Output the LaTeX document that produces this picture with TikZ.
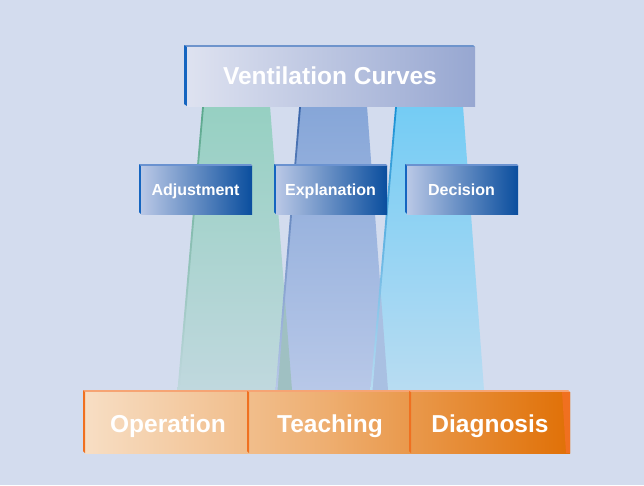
\documentclass[tikz,border=0pt]{standalone}
\usepackage{fontspec}
\setmainfont{Liberation Sans}
\usetikzlibrary{calc}
\definecolor{bg}{HTML}{D3DCEE}
\definecolor{topL}{HTML}{DEE2F0}
\definecolor{topR}{HTML}{97A7D1}
\definecolor{topEdge}{HTML}{6E94CC}
\definecolor{sideBlue}{HTML}{1565C0}
\definecolor{midL}{HTML}{BAC8E6}
\definecolor{midR}{HTML}{0A4E9E}
\definecolor{midTop}{HTML}{6A92D0}
\definecolor{barL}{HTML}{F7DEC4}
\definecolor{barM}{HTML}{EEAE70}
\definecolor{barR}{HTML}{E07006}
\definecolor{barTop}{HTML}{F6A474}
\definecolor{barSide}{HTML}{F07020}
\definecolor{grT}{HTML}{96D0C2}
\definecolor{grB}{HTML}{C0D8DE}
\definecolor{grE}{HTML}{5AA88C}
\definecolor{blT}{HTML}{86A6D8}
\definecolor{blB}{HTML}{B8C8E8}
\definecolor{blE}{HTML}{3A66AA}
\definecolor{cyT}{HTML}{74CCF4}
\definecolor{cyB}{HTML}{B8DCF2}
\definecolor{cyE}{HTML}{1890D4}
\definecolor{ovGB}{HTML}{9FC0C2}
\definecolor{ovBC}{HTML}{A9C0E2}
\tikzset{
  lbl/.style={text=white, font=\bfseries\fontsize{16}{19}\selectfont, inner sep=0pt, anchor=base},
  biglbl/.style={text=white, font=\bfseries\fontsize{24.5}{29}\selectfont, inner sep=0pt, anchor=base},
  midbox/.style={minimum width=111pt, minimum height=48pt, inner sep=0pt, left color=midL, right color=midR},
  slot/.style={inner sep=0pt, minimum height=61pt},
}
\begin{document}
\begin{tikzpicture}[x=1pt,y=-1pt]
\useasboundingbox (0,0) rectangle (644,485);
\fill[bg] (0,0) rectangle (644,485);
% beams
\shade[top color=grT, bottom color=grB] (203,106) -- (270,106) -- (292,390) -- (178,390) -- cycle;
\shade[top color=blT, bottom color=blB] (300,106) -- (367,106) -- (388,390) -- (276,390) -- cycle;
\shade[top color=cyT, bottom color=cyB] (396,106) -- (463,106) -- (484,390) -- (371,390) -- cycle;
% overlaps
\fill[ovGB] (284.3,291) -- (292,390) -- (276,390) -- cycle;
\fill[ovBC] (380.2,285) -- (388,390) -- (371,390) -- cycle;
% beam edges
\shade[top color=grE, bottom color=grB] (202.2,106) -- (204,106) -- (179.5,390) -- (177.5,390) -- cycle;
\shade[top color=blE, bottom color=blB] (299.2,106) -- (301,106) -- (277.5,390) -- (275.5,390) -- cycle;
\shade[top color=cyE, bottom color=cyB] (395.2,106) -- (397,106) -- (372.5,390) -- (370.5,390) -- cycle;
% top box
\fill[topEdge] (184,45) -- (473,45) -- (475,47) -- (187,47) -- cycle;
\fill[sideBlue] (184,45) -- (187,47) -- (187,106) -- (184,104) -- cycle;
\node[minimum width=288pt, minimum height=59pt, inner sep=0pt, left color=topL, right color=topR] (top) at (331,76.5) {};
\node[biglbl] (toplbl) at (330,84) {Ventilation Curves};
% middle boxes
\foreach \nm/\cx/\txt in {adj/196.5/Adjustment, exp/331.5/Explanation, dec/462.5/Decision}{
  \fill[midTop] (\cx-57.5,164) -- (\cx+54.5,164) -- (\cx+56,166) -- (\cx-55.5,166) -- cycle;
  \fill[sideBlue] (\cx-57.5,164) -- (\cx-55.5,166) -- (\cx-55.5,214) -- (\cx-57.5,212) -- cycle;
  \node[midbox] (\nm) at (\cx,190) {};
  \node[lbl] (\nm lbl) at (\cx-1,195.5) {\txt};
}
% bottom bar
\fill[barTop] (83,390) -- (568,390) -- (570,392) -- (85,392) -- cycle;
\shade[left color=barL, right color=barR, middle color=barM] (85,392) rectangle (570,453);
\fill[barSide] (562,392) -- (570,392) -- (570,453) -- (566,453) -- cycle;
\node[slot, minimum width=165pt] (op) at (166.5,422.5) {};
\node[slot, minimum width=162pt] (te) at (330,422.5) {};
\node[slot, minimum width=160pt] (di) at (490,422.5) {};
\fill[barSide] (83,390) -- (85,392) -- (85,453) -- (83,451) -- cycle;
\fill[barSide] (247,391) -- (249,392) -- (249,453) -- (247,451) -- cycle;
\fill[barSide] (409,391) -- (411,392) -- (411,453) -- (409,451) -- cycle;
\node[biglbl] (oplbl) at (168,432) {Operation};
\node[biglbl] (telbl) at (330,432) {Teaching};
\node[biglbl] (dilbl) at (490,432) {Diagnosis};
\end{tikzpicture}
\end{document}
